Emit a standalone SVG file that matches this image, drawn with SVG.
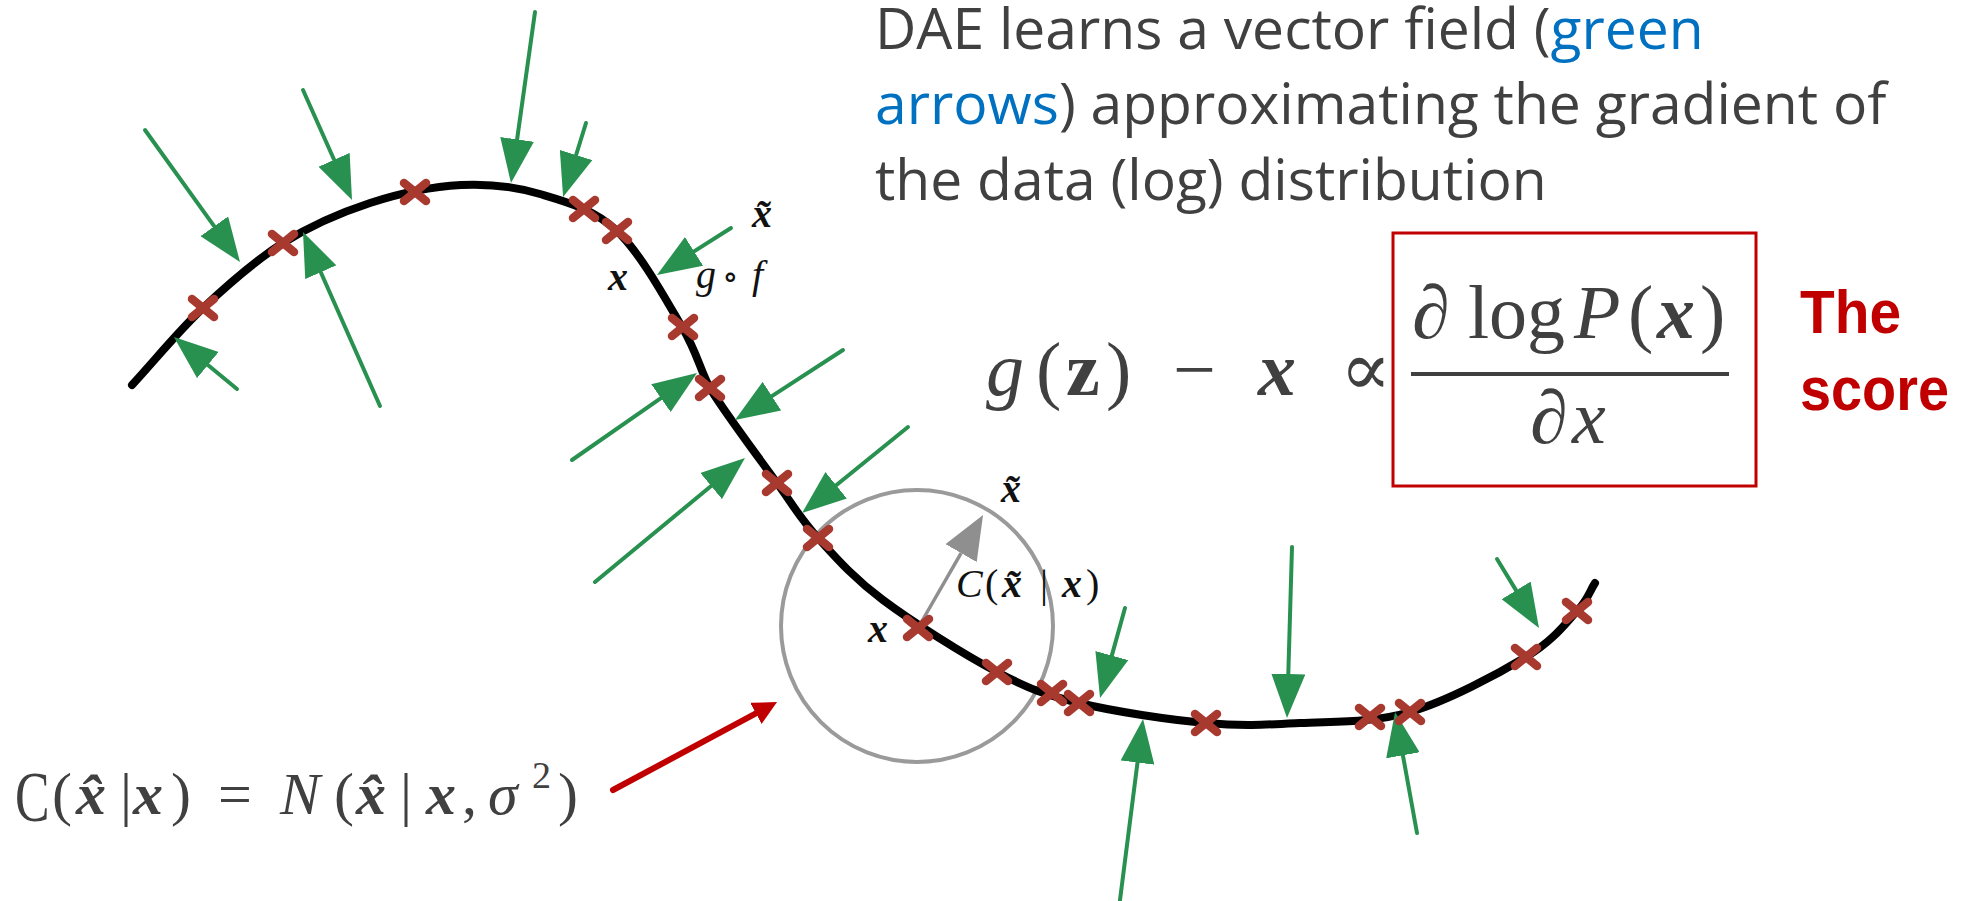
<svg xmlns="http://www.w3.org/2000/svg" width="1975" height="901" viewBox="0 0 1975 901">
<style>
.title{font-family:"Open Sans","Liberation Sans",sans-serif;font-size:57px;fill:#404040}
.blue{fill:#0070C0}
.score{font-family:"Liberation Sans",Arial,sans-serif;font-weight:bold;font-size:62px;fill:#C00000}
.math{font-family:"Liberation Serif","DejaVu Serif",serif;fill:#404040}
.lbl{font-family:"Liberation Serif","DejaVu Serif",serif;fill:#111;font-size:40px}
.it{font-style:italic}
.bi{font-style:italic;font-weight:bold}
.b{font-weight:bold}
.curve{fill:none;stroke:#000;stroke-width:8;stroke-linecap:round;stroke-linejoin:round}
.cross line{stroke:#A8392F;stroke-width:8.5;stroke-linecap:round}
.garrow{fill:none;stroke:#289150;stroke-width:4;stroke-linecap:round;marker-end:url(#gh)}
</style>
<defs>
<marker id="gh" viewBox="0 0 44 34" refX="0" refY="17" markerWidth="44" markerHeight="34" markerUnits="userSpaceOnUse" orient="auto"><path d="M0,0 L44,17 L0,34 Z" fill="#289150"/></marker>
<marker id="grh" viewBox="0 0 44 36" refX="0" refY="18" markerWidth="44" markerHeight="36" markerUnits="userSpaceOnUse" orient="auto"><path d="M0,0 L44,18 L0,36 Z" fill="#8f8f8f"/></marker>
<marker id="rh" viewBox="0 0 24 24" refX="0" refY="12" markerWidth="24" markerHeight="24" markerUnits="userSpaceOnUse" orient="auto"><path d="M0,0 L24,12 L0,24 Z" fill="#C00000"/></marker>
<g id="xmark" class="cross"><line x1="-11" y1="-9" x2="11" y2="9"/><line x1="-11" y1="9" x2="11" y2="-9"/></g>
</defs>

<g id="title-text">
<text class="title" x="875" y="49">DAE learns a vector field (<tspan class="blue">green</tspan></text>
<text class="title" x="875" y="124"><tspan class="blue">arrows</tspan>) approximating the gradient of</text>
<text class="title" x="875" y="200">the data (log) distribution</text>
</g>

<g id="corruption-circle">
<circle cx="917" cy="626" r="136" fill="none" stroke="#9a9a9a" stroke-width="4"/>
</g>

<g id="manifold-curve">
<path class="curve" d="M132,385 C155.7,359.3 177.8,331.7 203,308 C228.2,284.3 255.2,260.5 283,243 C310.8,225.5 340.3,212.7 370,203 C399.7,193.3 432.7,186.5 461,185 C489.3,183.5 514,186.3 540,194 C566,201.7 593.3,208.8 617,231 C640.7,253.2 666.5,300.8 682,327 C697.5,353.2 700,370 710,388 C720,406 759,458 777,483 C795,508 800.3,518.5 818,538 C835.7,557.5 853.2,577.7 883,600 C912.8,622.3 964.3,654.8 997,672 C1029.7,689.2 1044.2,694.5 1079,703 C1113.8,711.5 1169.2,719.7 1206,723 C1242.8,726.3 1266,724.8 1300,723 C1334,721.2 1372.3,723 1410,712 C1447.7,701 1498.2,673.8 1526,657 C1553.8,640.2 1565.5,623.3 1577,611 C1588.5,598.7 1589,592.3 1595,583"/>
</g>

<g id="connectors">
<line class="garrow" x1="145" y1="130" x2="214.3" y2="226.3"/>
<line class="garrow" x1="303" y1="90" x2="334.1" y2="159.8"/>
<line class="garrow" x1="535" y1="12" x2="517.1" y2="139.4"/>
<line class="garrow" x1="586" y1="123" x2="576.1" y2="155"/>
<line class="garrow" x1="731" y1="228" x2="694.1" y2="251.4"/>
<line class="garrow" x1="237" y1="389" x2="207.9" y2="365"/>
<line class="garrow" x1="380" y1="406" x2="320.8" y2="272.2"/>
<line class="garrow" x1="572" y1="460" x2="660.9" y2="398.1"/>
<line class="garrow" x1="843" y1="350" x2="771.9" y2="396.1"/>
<line class="garrow" x1="595" y1="582" x2="711.1" y2="486"/>
<line class="garrow" x1="908" y1="427" x2="836.2" y2="485.3"/>
<line class="garrow" x1="1125" y1="608" x2="1111.8" y2="655.6"/>
<line class="garrow" x1="1292" y1="547" x2="1288.3" y2="674"/>
<line class="garrow" x1="1497" y1="559" x2="1516.1" y2="590.4"/>
<line class="garrow" x1="1120" y1="900" x2="1137.5" y2="762.6"/>
<line class="garrow" x1="1417" y1="833" x2="1402.9" y2="755.3"/>
<line x1="918" y1="628" x2="961.1" y2="553.1" stroke="#8f8f8f" stroke-width="3.5" marker-end="url(#grh)"/>
<line x1="613" y1="790" x2="755.9" y2="713.4" stroke="#C00000" stroke-width="6" stroke-linecap="round" marker-end="url(#rh)"/>
</g>

<g id="samples">
<use href="#xmark" x="203" y="308"/>
<use href="#xmark" x="283" y="243"/>
<use href="#xmark" x="415" y="192"/>
<use href="#xmark" x="584" y="209"/>
<use href="#xmark" x="617" y="231"/>
<use href="#xmark" x="683" y="327"/>
<use href="#xmark" x="710" y="388"/>
<use href="#xmark" x="777" y="483"/>
<use href="#xmark" x="818" y="538"/>
<use href="#xmark" x="918" y="628"/>
<use href="#xmark" x="997" y="672"/>
<use href="#xmark" x="1052" y="693"/>
<use href="#xmark" x="1079" y="703"/>
<use href="#xmark" x="1206" y="723"/>
<use href="#xmark" x="1370" y="717"/>
<use href="#xmark" x="1410" y="712"/>
<use href="#xmark" x="1526" y="657"/>
<use href="#xmark" x="1577" y="611"/>
</g>

<g id="plot-labels">
<text class="lbl bi" x="752" y="227">x&#x303;</text>
<text class="lbl bi" x="608" y="290">x</text>
<text class="lbl" y="288"><tspan class="it" x="696">g</tspan><tspan x="722" font-family="DejaVu Serif" font-size="34">&#x2218;</tspan><tspan class="it" x="752">f</tspan></text>
<text class="lbl bi" x="1001" y="502">x&#x303;</text>
<text class="lbl" y="597"><tspan class="it" x="956">C</tspan><tspan x="985">(</tspan><tspan class="bi" x="1002">x&#x303;</tspan><tspan x="1040">|</tspan><tspan class="bi" x="1062">x</tspan><tspan x="1086">)</tspan></text>
<text class="lbl bi" x="868" y="642">x</text>
</g>

<g id="score-formula" class="math">
<text y="395" font-size="76"><tspan class="it" x="986">g</tspan><tspan x="1036">(</tspan><tspan class="b" x="1066">z</tspan><tspan x="1106">)</tspan><tspan x="1173">&#x2212;</tspan><tspan class="bi" x="1258">x</tspan><tspan x="1340">&#x221D;</tspan></text>
<text y="338" font-size="76"><tspan class="it" x="1412">&#x2202;</tspan><tspan x="1468">log</tspan><tspan class="it" x="1574">P</tspan><tspan x="1628">(</tspan><tspan class="bi" x="1657">x</tspan><tspan x="1700">)</tspan></text>
<line x1="1411" y1="374" x2="1729" y2="374" stroke="#404040" stroke-width="4"/>
<text y="443" font-size="76"><tspan class="it" x="1530">&#x2202;</tspan><tspan class="it" x="1572">x</tspan></text>
</g>

<g id="score-box">
<rect x="1393" y="233" width="363" height="253" fill="none" stroke="#C00000" stroke-width="3"/>
</g>

<g id="score-label">
<text class="score" x="1800" y="333" textLength="101" lengthAdjust="spacingAndGlyphs">The</text>
<text class="score" x="1800" y="410" textLength="149" lengthAdjust="spacingAndGlyphs">score</text>
</g>

<g id="noise-formula" class="math">
<text transform="translate(15,821) scale(0.72,1)" font-size="72">C</text>
<text y="814" font-size="60"><tspan x="52">(</tspan><tspan class="bi" x="76">x&#x302;</tspan><tspan x="120">|</tspan><tspan class="bi" x="133">x</tspan><tspan x="171">)</tspan><tspan x="218">=</tspan><tspan class="it" x="280">N</tspan><tspan x="334">(</tspan><tspan class="bi" x="356">x&#x302;</tspan><tspan x="400">|</tspan><tspan class="bi" x="426">x</tspan><tspan x="462">,</tspan><tspan class="it" x="488">&#x3C3;</tspan><tspan x="558">)</tspan></text>
<text x="532" y="788" font-size="38">2</text>
</g>
</svg>
